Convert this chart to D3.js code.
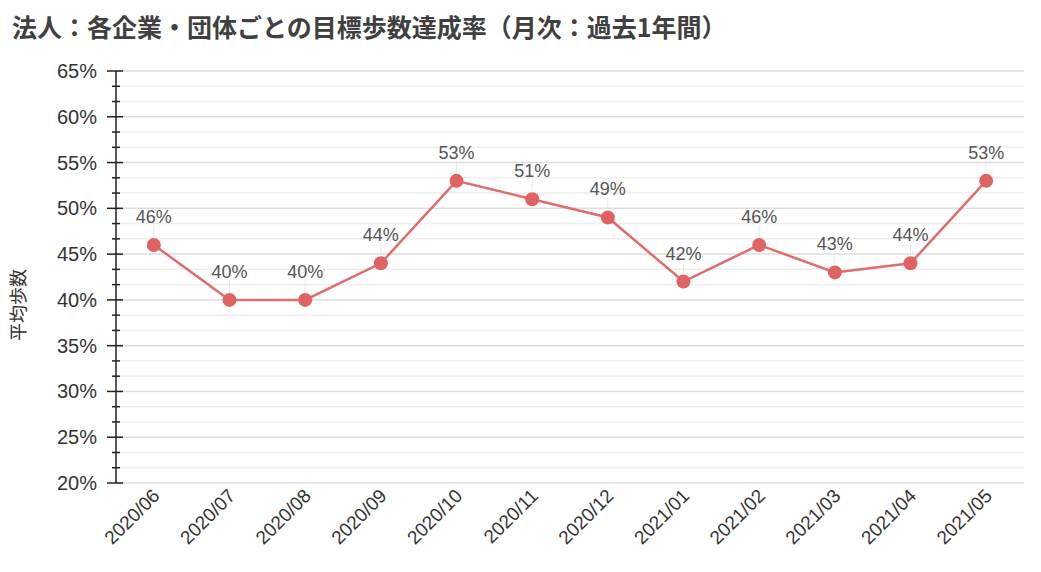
<!DOCTYPE html>
<html>
<head>
<meta charset="utf-8">
<script src="https://cdn.jsdelivr.net/npm/d3@7"></script>
<style>
body { margin: 0; background: #fff; font-family: "Liberation Sans", Arial, "Noto Sans CJK JP", sans-serif; }
</style>
</head>
<body>
<div id="chart"></div>
<script>
var months = ["2020/06","2020/07","2020/08","2020/09","2020/10","2020/11","2020/12","2021/01","2021/02","2021/03","2021/04","2021/05"];
var rates = [46, 40, 40, 44, 53, 51, 49, 42, 46, 43, 44, 53];
var yTicks = [20, 25, 30, 35, 40, 45, 50, 55, 60, 65];

var W = 1041, H = 572;
var margin = {top: 71, right: 17, bottom: 89, left: 116};
var width = W - margin.left - margin.right;
var height = H - margin.top - margin.bottom;

var svg = d3.select("#chart").append("svg")
  .attr("width", W).attr("height", H);

svg.append("text")
  .attr("x", 12).attr("y", 37)
  .attr("font-size", 25).attr("font-weight", "bold")
  .attr("fill", "#404040")
  .attr("font-family", "'Noto Sans CJK JP', sans-serif")
  .text("法人：各企業・団体ごとの目標歩数達成率（月次：過去1年間）");

var g = svg.append("g").attr("transform", "translate(" + margin.left + "," + margin.top + ")");

var x = d3.scaleBand().domain(months).range([0, width]);
var y = d3.scaleLinear().domain([20, 65]).range([height, 0]);

// minor grid
var minor = [];
for (var i = 0; i < yTicks.length - 1; i++) {
  minor.push(yTicks[i] + 5 / 3, yTicks[i] + 10 / 3);
}
g.selectAll(".minor").data(minor).enter().append("line")
  .attr("x1", 0).attr("x2", width)
  .attr("y1", function(d){ return y(d); }).attr("y2", function(d){ return y(d); })
  .attr("stroke", "#eeeeee").attr("stroke-width", 1.5);
g.selectAll(".major").data(yTicks).enter().append("line")
  .attr("x1", 0).attr("x2", width)
  .attr("y1", function(d){ return y(d); }).attr("y2", function(d){ return y(d); })
  .attr("stroke", "#dddddd").attr("stroke-width", 1.5);

// y axis
var yAxis = g.append("g");
yAxis.append("line").attr("x1", 0).attr("x2", 0).attr("y1", 0).attr("y2", height)
  .attr("stroke", "#222").attr("stroke-width", 1.5);
yAxis.selectAll(".tk").data(yTicks).enter().append("line")
  .attr("x1", -9).attr("x2", 7)
  .attr("y1", function(d){ return y(d); }).attr("y2", function(d){ return y(d); })
  .attr("stroke", "#222").attr("stroke-width", 1.5);
yAxis.selectAll(".mtk").data(minor).enter().append("line")
  .attr("x1", -4).attr("x2", 4)
  .attr("y1", function(d){ return y(d); }).attr("y2", function(d){ return y(d); })
  .attr("stroke", "#222").attr("stroke-width", 1.5);
yAxis.selectAll(".lbl").data(yTicks).enter().append("text")
  .attr("x", -19).attr("y", function(d){ return y(d); })
  .attr("dy", "0.35em").attr("text-anchor", "end")
  .attr("font-size", 20).attr("fill", "#333")
  .text(function(d){ return d + "%"; });

svg.append("text")
  .attr("transform", "translate(25," + 305 + ") rotate(-90)")
  .attr("text-anchor", "middle")
  .attr("font-size", 18).attr("fill", "#333")
  .attr("font-family", "'Noto Sans CJK JP', sans-serif")
  .text("平均歩数");

// x labels
g.selectAll(".xl").data(months).enter().append("text")
  .attr("transform", function(d){ return "translate(" + (x(d) + x.bandwidth() / 2 + 7) + "," + (height + 14) + ") rotate(-45)"; })
  .attr("text-anchor", "end")
  .attr("font-size", 19).attr("fill", "#333")
  .text(function(d){ return d; });

// line
var line = d3.line()
  .x(function(d, i){ return x(months[i]) + x.bandwidth() / 2; })
  .y(function(d){ return y(d); });
g.append("path").datum(rates)
  .attr("fill", "none").attr("stroke", "#e06c6c").attr("stroke-width", 2.5)
  .attr("d", line);

// label connectors
g.selectAll(".conn").data(rates).enter().append("line")
  .attr("x1", function(d, i){ return x(months[i]) + x.bandwidth() / 2; })
  .attr("x2", function(d, i){ return x(months[i]) + x.bandwidth() / 2; })
  .attr("y1", function(d){ return y(d) - 8; })
  .attr("y2", function(d){ return y(d) - 20; })
  .attr("stroke", "#e8e8e8").attr("stroke-width", 1);

g.selectAll(".pt").data(rates).enter().append("circle")
  .attr("cx", function(d, i){ return x(months[i]) + x.bandwidth() / 2; })
  .attr("cy", function(d){ return y(d); })
  .attr("r", 7).attr("fill", "#e06262");

g.selectAll(".vl").data(rates).enter().append("text")
  .attr("x", function(d, i){ return x(months[i]) + x.bandwidth() / 2; })
  .attr("y", function(d){ return y(d) - 22; })
  .attr("text-anchor", "middle")
  .attr("font-size", 18).attr("fill", "#555")
  .text(function(d){ return d + "%"; });
</script>
</body>
</html>
